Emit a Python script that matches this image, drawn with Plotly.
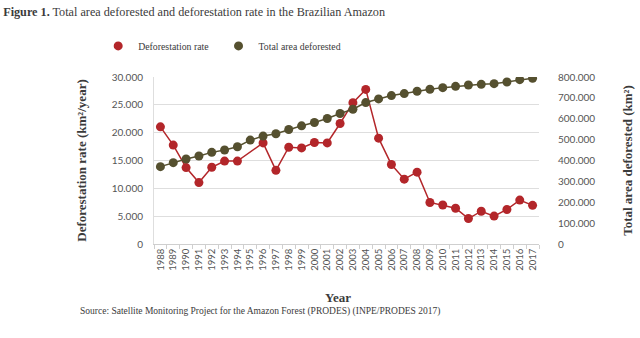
import plotly.graph_objects as go

years = [str(y) for y in range(1988, 2018)]
rate = [21050, 17770, 13730, 11030, 13786, 14896, 14896, None, 18161, 13227,
        17383, 17259, 18226, 18165, 21651, 25396, 27772, 19014, 14286, 11651,
        12911, 7464, 7000, 6418, 4571, 5891, 5012, 6207, 7893, 6947]
total = [370600, 389600, 407200, 421500, 439000, 450100, 466000, 497800, 516900, 528000,
         548700, 566200, 582100, 601200, 625000, 645700, 677500, 695000, 710900, 720500,
         731600, 741100, 749100, 755400, 761800, 765000, 768200, 776100, 787300, 793600]

RED = "#b3262a"
DARK = "#55502f"
TXT = "#3b3b3b"
SERIF = "Liberation Serif, serif"
SANS = "Lato, sans-serif"

fig = go.Figure()
fig.add_trace(go.Scatter(x=years, y=rate, name="Deforestation rate", mode="lines+markers",
                         connectgaps=True, line=dict(color=RED, width=1.5), showlegend=False,
                         marker=dict(color=RED, size=9), yaxis="y"))
fig.add_trace(go.Scatter(x=years, y=total, name="Total area deforested", mode="lines+markers",
                         line=dict(color=DARK, width=1.5), showlegend=False,
                         marker=dict(color=DARK, size=9), yaxis="y2"))
# legend entries (markers only)
fig.add_trace(go.Scatter(x=[years[0]], y=[None], name="Deforestation rate\u00a0\u00a0", mode="markers",
                         marker=dict(color=RED, size=9), yaxis="y"))
fig.add_trace(go.Scatter(x=[years[0]], y=[None], name="Total area deforested", mode="markers",
                         marker=dict(color=DARK, size=9), yaxis="y"))

fig.update_layout(
    template="none",
    width=640, height=338,
    margin=dict(l=154, r=101, t=77, b=94, autoexpand=False),
    paper_bgcolor="white", plot_bgcolor="white",
    separators=",.",
    showlegend=True,
    legend=dict(orientation="h", x=-0.145, xanchor="left", y=1.186, yanchor="middle",
                font=dict(family=SERIF, size=9.8, color=TXT), bgcolor="rgba(0,0,0,0)"),
    title=dict(text="<b>Figure 1.</b> Total area deforested and deforestation rate in the Brazilian Amazon",
               x=0.005, xanchor="left", y=0.965, yanchor="middle",
               font=dict(family=SERIF, size=12.2, color=TXT)),
    xaxis=dict(type="category", categoryorder="array", categoryarray=years,
               range=[-0.5, len(years) - 0.5],
               showgrid=False, showline=True, linecolor="#cfcfcf", linewidth=1,
               automargin=False,
               ticks="outside", tickson="boundaries", ticklen=4, tickcolor="#cfcfcf",
               tickangle=-90, tickfont=dict(family=SANS, size=9.5, color="#555555")),
    yaxis=dict(range=[0, 30000], dtick=5000, tickformat=",d", showgrid=True, gridcolor="#dedede",
               showline=True, linecolor="#dedede", zeroline=False, automargin=False, ticks="",
               ticklabelstandoff=8,
               tickfont=dict(family=SANS, size=10, color="#555555"),
               title=dict(text="<b>Deforestation rate (km²/year)</b>", standoff=22,
                          font=dict(family=SERIF, size=13, color=TXT))),
    yaxis2=dict(range=[0, 800000], dtick=100000, tickformat=",d", overlaying="y", side="right",
                showgrid=False, showline=False, zeroline=False, automargin=False, ticks="",
                ticklabelstandoff=18,
                tickfont=dict(family=SANS, size=10, color="#555555"),
                title=dict(text="<b>Total area deforested (km²)</b>", standoff=28,
                           font=dict(family=SERIF, size=13, color=TXT))),
    annotations=[
        dict(text="<b>Year</b>", xref="paper", yref="paper", x=(338 - 154) / 385, y=-(297 - 244) / 167,
             xanchor="center", yanchor="middle", showarrow=False,
             font=dict(family=SERIF, size=13, color=TXT)),
        dict(text="Source: Satellite Monitoring Project for the Amazon Forest (PRODES) (INPE/PRODES 2017)",
             xref="paper", yref="paper", x=(78 - 154) / 385, y=-(311 - 244) / 167,
             xanchor="left", yanchor="middle", showarrow=False,
             font=dict(family=SERIF, size=9.5, color=TXT)),
    ],
)

fig.write_html("out.html")
